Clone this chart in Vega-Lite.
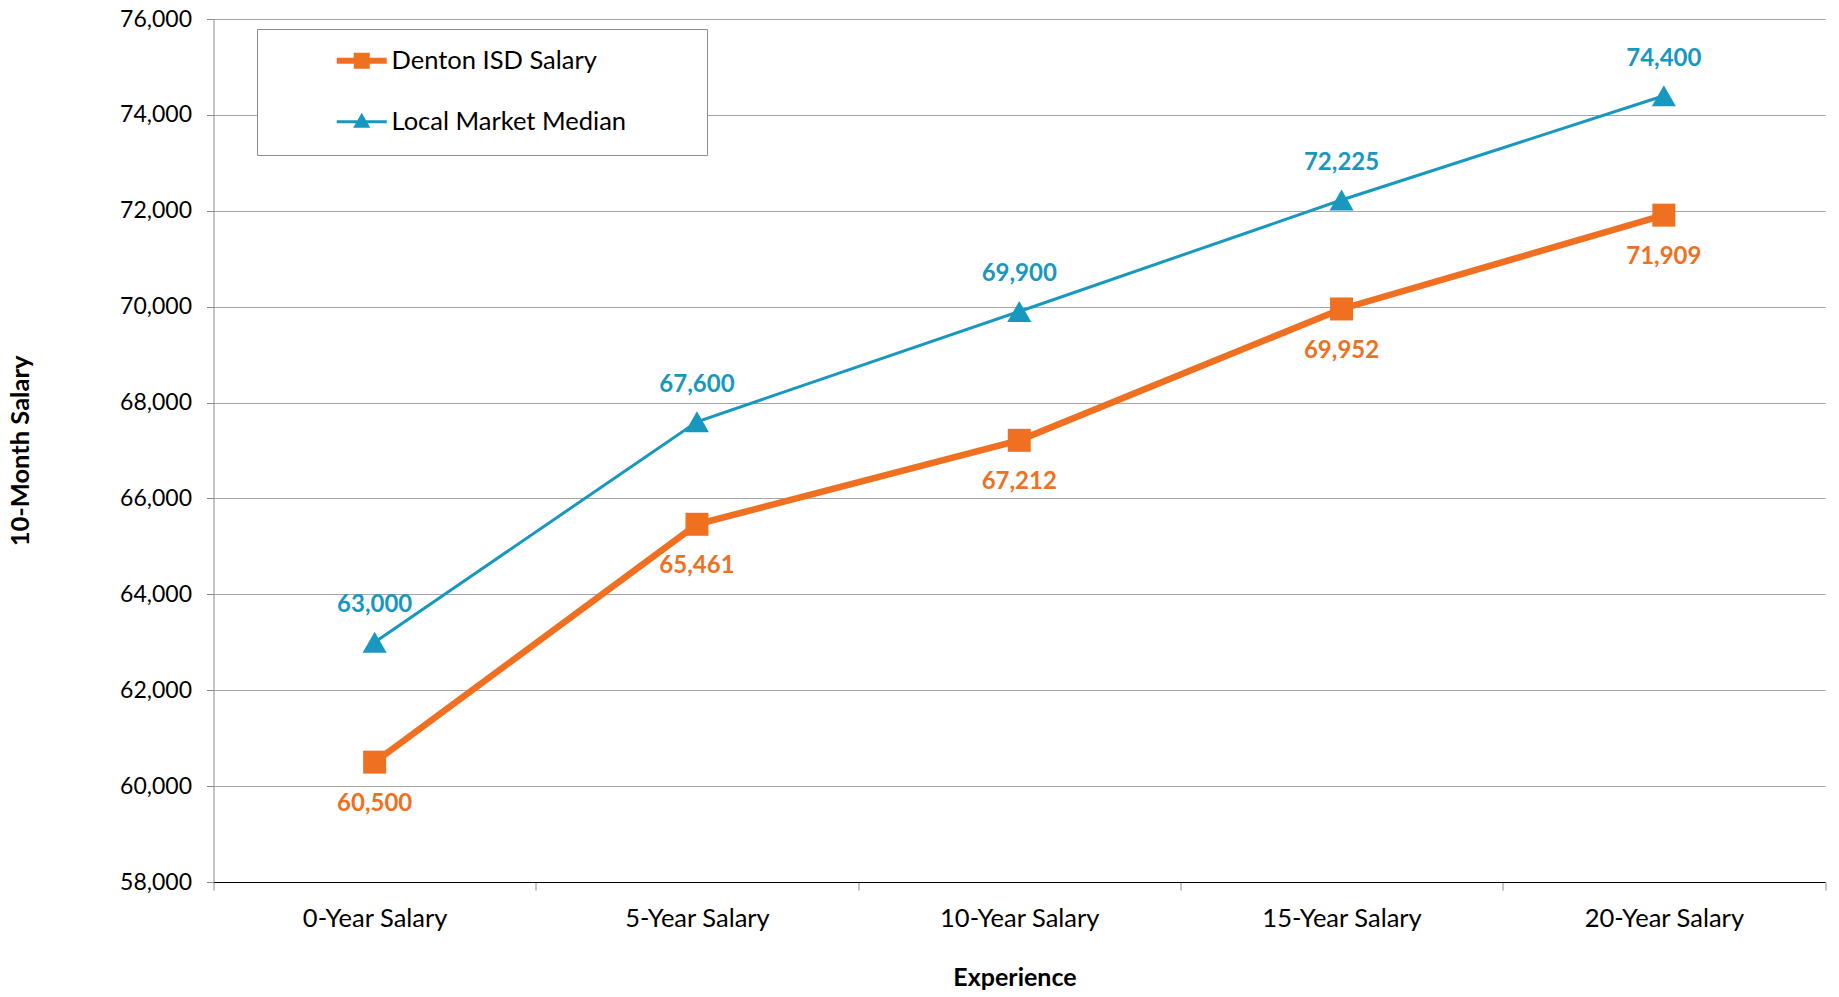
{
  "$schema": "https://vega.github.io/schema/vega-lite/v6.json",
  "width": 1611.5,
  "height": 863,
  "autosize": {"type": "none"},
  "padding": {"left": 213.5, "top": 19, "right": 14, "bottom": 115},
  "background": "white",
  "config": {"font": "Lato", "view": {"stroke": null}},
  "data": {
    "values": [
      {"experience": "0-Year Salary", "series": "Denton ISD Salary", "salary": 60500},
      {"experience": "5-Year Salary", "series": "Denton ISD Salary", "salary": 65461},
      {"experience": "10-Year Salary", "series": "Denton ISD Salary", "salary": 67212},
      {"experience": "15-Year Salary", "series": "Denton ISD Salary", "salary": 69952},
      {"experience": "20-Year Salary", "series": "Denton ISD Salary", "salary": 71909},
      {"experience": "0-Year Salary", "series": "Local Market Median", "salary": 63000},
      {"experience": "5-Year Salary", "series": "Local Market Median", "salary": 67600},
      {"experience": "10-Year Salary", "series": "Local Market Median", "salary": 69900},
      {"experience": "15-Year Salary", "series": "Local Market Median", "salary": 72225},
      {"experience": "20-Year Salary", "series": "Local Market Median", "salary": 74400}
    ]
  },
  "encoding": {
    "x": {
      "field": "experience",
      "type": "nominal",
      "sort": ["0-Year Salary", "5-Year Salary", "10-Year Salary", "15-Year Salary", "20-Year Salary"],
      "scale": {"paddingInner": 0, "paddingOuter": 0},
      "axis": {
        "title": "Experience",
        "titleFontSize": 25,
        "titleFontWeight": "bold",
        "titleColor": "#000000",
        "titleX": 801,
        "titleY": 95,
        "titleBaseline": "middle",
        "labelAngle": 0,
        "labelFontSize": 25.5,
        "labelColor": "#000000",
        "labelPadding": 16,
        "tickBand": "extent",
        "tickSize": 8,
        "tickColor": "#8C8C8C",
        "domainColor": "#000000",
        "grid": false
      }
    },
    "y": {
      "field": "salary",
      "type": "quantitative",
      "scale": {"domain": [58000, 76000], "nice": false, "zero": false},
      "axis": {
        "title": "10-Month Salary",
        "titleFontSize": 25.5,
        "titleFontWeight": "bold",
        "titleColor": "#000000",
        "titleX": -193,
        "titleY": 431.5,
        "titleBaseline": "middle",
        "values": [58000, 60000, 62000, 64000, 66000, 68000, 70000, 72000, 74000, 76000],
        "format": ",d",
        "labelFontSize": 23,
        "labelColor": "#000000",
        "labelPadding": 15,
        "tickSize": 7,
        "tickColor": "#8C8C8C",
        "domainColor": "#8C8C8C",
        "grid": true,
        "gridColor": "#A6A6A6"
      }
    },
    "color": {
      "field": "series",
      "type": "nominal",
      "scale": {"domain": ["Denton ISD Salary", "Local Market Median"], "range": ["#F07022", "#1897BF"]},
      "legend": {
        "title": ".",
        "titleOrient": "right",
        "titlePadding": 59,
        "titleFontSize": 10,
        "titleColor": "#FFFFFF",
        "titleOpacity": 0,
        "orient": "none",
        "legendX": 43.5,
        "legendY": 10,
        "padding": 19,
        "strokeColor": "#8C8C8C",
        "fillColor": "#FFFFFF",
        "symbolSize": 2500,
        "symbolStrokeWidth": 3,
        "symbolOffset": 73,
        "labelOffset": 17,
        "rowPadding": 31,
        "labelFontSize": 25.5,
        "labelLimit": 0,
        "labelColor": "#000000",
        "encode": {
          "symbols": {
            "update": {
              "shape": {"signal": "datum.value === 'Denton ISD Salary' ? 'M-1,0H1M-0.2,-0.2H0.2V0.2H-0.2Z' : 'M-1,0H1M0,-0.24L0.24,0.18H-0.24Z'"},
              "strokeWidth": {"signal": "datum.value === 'Denton ISD Salary' ? 6 : 3"},
              "fill": {"signal": "datum.value === 'Denton ISD Salary' ? '#F07022' : '#1897BF'"},
              "stroke": {"signal": "datum.value === 'Denton ISD Salary' ? '#F07022' : '#1897BF'"},
              "size": {"value": 2500},
              "opacity": {"value": 1}
            }
          }
        }
      }
    }
  },
  "layer": [
    {
      "transform": [{"filter": "datum.series === 'Local Market Median'"}],
      "mark": {"type": "line", "strokeWidth": 3},
      "encoding": {}
    },
    {
      "transform": [{"filter": "datum.series === 'Denton ISD Salary'"}],
      "mark": {"type": "line", "strokeWidth": 6.5},
      "encoding": {}
    },
    {
      "transform": [{"filter": "datum.series === 'Denton ISD Salary'"}],
      "mark": {"type": "point", "shape": "square", "size": 529, "filled": true, "opacity": 1},
      "encoding": {}
    },
    {
      "transform": [{"filter": "datum.series === 'Local Market Median'"}],
      "mark": {"type": "point", "shape": "triangle-up", "size": 580, "filled": true, "opacity": 1},
      "encoding": {}
    },
    {
      "transform": [{"filter": "datum.series === 'Local Market Median'"}],
      "mark": {"type": "text", "dy": -37, "fontSize": 24, "fontWeight": "bold", "baseline": "middle"},
      "encoding": {"text": {"field": "salary", "type": "quantitative", "format": ","}}
    },
    {
      "transform": [{"filter": "datum.series === 'Denton ISD Salary'"}],
      "mark": {"type": "text", "dy": 42, "fontSize": 24, "fontWeight": "bold", "baseline": "middle"},
      "encoding": {"text": {"field": "salary", "type": "quantitative", "format": ","}}
    }
  ]
}
